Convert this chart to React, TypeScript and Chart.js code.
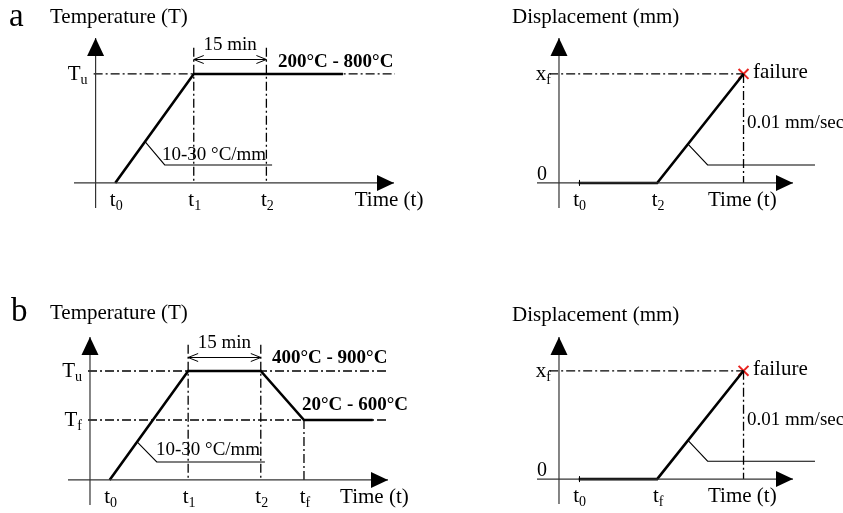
import React, { useEffect, useRef } from "react";
import { Chart, registerables } from "chart.js";

Chart.register(...registerables);

const SERIF = '"Liberation Serif", "Times New Roman", serif';

// ---------- data (schematic units) ----------
// a – temperature programme
const aTempTime = [1, 5, 12.6];
const aTempValue = [0, 10, 10];
const aTempTicks = [1, 5, 8.7];
const aTempTickSubs = ["0", "1", "2"];
const aTempLevels = [10];
const aTempLevelSubs = ["u"];
const aRangeLabel = "200°C - 800°C";

// a – displacement
const aDispTime = [1, 5, 9.4];
const aDispValue = [0, 0, 10];
const aDispTicks = [1, 5];
const aDispTickSubs = ["0", "2"];

// b – temperature programme
const bTempTime = [1, 5, 8.7, 10.9, 14.4];
const bTempValue = [0, 10, 10, 5.5, 5.5];
const bTempTicks = [1, 5, 8.7, 10.9];
const bTempTickSubs = ["0", "1", "2", "f"];
const bTempLevels = [10, 5.5];
const bTempLevelSubs = ["u", "f"];
const bRangeHigh = "400°C - 900°C";
const bRangeLow = "20°C - 600°C";

// b – displacement
const bDispTime = [1, 5, 9.4];
const bDispValue = [0, 0, 10];
const bDispTicks = [1, 5];
const bDispTickSubs = ["0", "f"];

const holdLabel = "15 min";
const heatRate = "10-30 °C/mm";
const loadRate = "0.01 mm/sec";
const failureLabel = "failure";
const timeLabel = "Time (t)";
const tempTitle = "Temperature (T)";
const dispTitle = "Displacement (mm)";

// ---------- types ----------
type P = { x: number; y: number };
type Txt = { x: number; y: number; text: string; size: number; bold?: boolean };
type Spec = {
  pos: { left: number; top: number; width: number; height: number };
  pad: { left: number; right: number; top: number; bottom: number };
  xRange: [number, number];
  yRange: [number, number];
  curveT: number[];
  curveV: number[];
  ticks: number[];
  tickSubs: string[];
  levels: number[];
  levelMain: string;
  levelSubs: string[];
  zeroLabel?: boolean;
  tickMark?: number;
  guides: P[][];
  leader: P[];
  failure?: P;
  hold?: { x1: number; x2: number; y: number; labelY: number };
  texts: Txt[];
  titles: { x: number; y: number; text: string; size: number }[];
  time: P;
};

const onSeg = (t: number[], v: number[], seg: number, frac: number): P => ({
  x: t[seg] + (t[seg + 1] - t[seg]) * frac,
  y: v[seg] + (v[seg + 1] - v[seg]) * frac,
});

const leaderPath = (p: P, end: number): P[] => [p, { x: p.x + 1.0, y: 1.65 }, { x: end, y: 1.65 }];

const last = (a: number[]) => a[a.length - 1];

const specs: Spec[] = [
  {
    pos: { left: 0, top: 0, width: 440, height: 256 },
    pad: { left: 74, right: 46, top: 38, bottom: 48 },
    xRange: [-1.1, 15.2],
    yRange: [-2.3, 13.3],
    curveT: aTempTime,
    curveV: aTempValue,
    ticks: aTempTicks,
    tickSubs: aTempTickSubs,
    levels: aTempLevels,
    levelMain: "T",
    levelSubs: aTempLevelSubs,
    guides: [
      [{ x: -0.1, y: aTempLevels[0] }, { x: 15.25, y: aTempLevels[0] }],
      [{ x: aTempTicks[1], y: 12.4 }, { x: aTempTicks[1], y: 0 }],
      [{ x: aTempTicks[2], y: 12.4 }, { x: aTempTicks[2], y: 0 }],
    ],
    leader: leaderPath(onSeg(aTempTime, aTempValue, 0, 0.38), 8.99),
    hold: { x1: aTempTicks[1], x2: aTempTicks[2], y: 11.38, labelY: 12.2 },
    texts: [
      { x: 9.29, y: 10.64, text: aRangeLabel, size: 19, bold: true },
      { x: 3.38, y: 2.11, text: heatRate, size: 19 },
    ],
    titles: [
      { x: 9, y: 26, text: "a", size: 33 },
      { x: 50, y: 23, text: tempTitle, size: 21 },
    ],
    time: { x: 13.2, y: -2.1 },
  },
  {
    pos: { left: 422, top: 0, width: 421, height: 256 },
    pad: { left: 115, right: 50, top: 38, bottom: 48 },
    xRange: [-1.12, 11.92],
    yRange: [-2.3, 13.3],
    curveT: aDispTime,
    curveV: aDispValue,
    ticks: aDispTicks,
    tickSubs: aDispTickSubs,
    levels: [last(aDispValue)],
    levelMain: "x",
    levelSubs: ["f"],
    zeroLabel: true,
    tickMark: aDispTicks[0],
    guides: [
      [{ x: -0.5, y: last(aDispValue) }, { x: last(aDispTime), y: last(aDispValue) }],
      [{ x: last(aDispTime), y: last(aDispValue) }, { x: last(aDispTime), y: 0 }],
    ],
    leader: leaderPath(onSeg(aDispTime, aDispValue, 1, 0.357), 13.04),
    failure: { x: last(aDispTime), y: last(aDispValue) },
    texts: [
      { x: 9.88, y: 9.63, text: failureLabel, size: 21 },
      { x: 9.58, y: 5.05, text: loadRate, size: 19 },
    ],
    titles: [{ x: 90, y: 23, text: dispTitle, size: 21 }],
    time: { x: 7.59, y: -2.1 },
  },
  {
    pos: { left: 0, top: 257, width: 440, height: 256 },
    pad: { left: 68, right: 52, top: 80, bottom: 8 },
    xRange: [-1.12, 15.18],
    yRange: [-2.3, 13.12],
    curveT: bTempTime,
    curveV: bTempValue,
    ticks: bTempTicks,
    tickSubs: bTempTickSubs,
    levels: bTempLevels,
    levelMain: "T",
    levelSubs: bTempLevelSubs,
    guides: [
      [{ x: -0.1, y: bTempLevels[0] }, { x: 15.2, y: bTempLevels[0] }],
      [{ x: -0.1, y: bTempLevels[1] }, { x: 15.1, y: bTempLevels[1] }],
      [{ x: bTempTicks[1], y: 12.4 }, { x: bTempTicks[1], y: 0 }],
      [{ x: bTempTicks[2], y: 12.4 }, { x: bTempTicks[2], y: 0 }],
      [{ x: bTempTicks[3], y: bTempLevels[1] }, { x: bTempTicks[3], y: 0 }],
    ],
    leader: leaderPath(onSeg(bTempTime, bTempValue, 0, 0.35), 8.91),
    hold: { x1: bTempTicks[1], x2: bTempTicks[2], y: 11.3, labelY: 12.1 },
    texts: [
      { x: 9.27, y: 10.7, text: bRangeHigh, size: 19, bold: true },
      { x: 10.8, y: 6.4, text: bRangeLow, size: 19, bold: true },
      { x: 3.36, y: 2.3, text: heatRate, size: 19 },
    ],
    titles: [
      { x: 11, y: 64, text: "b", size: 33 },
      { x: 50, y: 62, text: tempTitle, size: 21 },
    ],
    time: { x: 12.74, y: -2.1 },
  },
  {
    pos: { left: 422, top: 257, width: 421, height: 256 },
    pad: { left: 115, right: 50, top: 80, bottom: 8 },
    xRange: [-1.12, 11.92],
    yRange: [-2.3, 13.12],
    curveT: bDispTime,
    curveV: bDispValue,
    ticks: bDispTicks,
    tickSubs: bDispTickSubs,
    levels: [last(bDispValue)],
    levelMain: "x",
    levelSubs: ["f"],
    zeroLabel: true,
    tickMark: bDispTicks[0],
    guides: [
      [{ x: -0.5, y: last(bDispValue) }, { x: last(bDispTime), y: last(bDispValue) }],
      [{ x: last(bDispTime), y: last(bDispValue) }, { x: last(bDispTime), y: 0 }],
    ],
    leader: leaderPath(onSeg(bDispTime, bDispValue, 1, 0.357), 13.04),
    failure: { x: last(bDispTime), y: last(bDispValue) },
    texts: [
      { x: 9.88, y: 9.63, text: failureLabel, size: 21 },
      { x: 9.58, y: 4.95, text: loadRate, size: 19 },
    ],
    titles: [{ x: 90, y: 64, text: dispTitle, size: 21 }],
    time: { x: 7.59, y: -2.1 },
  },
];

// ---------- drawing helpers ----------
function subText(
  ctx: CanvasRenderingContext2D,
  main: string,
  sub: string,
  x: number,
  y: number,
  align: "left" | "center" | "right",
  size: number
) {
  const ss = Math.round(size * 0.68);
  ctx.font = `${size}px ${SERIF}`;
  const wm = ctx.measureText(main).width;
  ctx.font = `${ss}px ${SERIF}`;
  const ws = ctx.measureText(sub).width;
  const total = wm + ws;
  const sx = align === "center" ? x - total / 2 : align === "right" ? x - total : x;
  ctx.textAlign = "left";
  ctx.textBaseline = "alphabetic";
  ctx.font = `${size}px ${SERIF}`;
  ctx.fillText(main, sx, y);
  ctx.font = `${ss}px ${SERIF}`;
  ctx.fillText(sub, sx + wm, y + size * 0.2);
}

function makePlugin(spec: Spec) {
  return {
    id: "sketch",
    afterDatasetsDraw(chart: any) {
      const ctx: CanvasRenderingContext2D = chart.ctx;
      const X = (v: number) => chart.scales.x.getPixelForValue(v);
      const Y = (v: number) => chart.scales.y.getPixelForValue(v);
      const a = chart.chartArea;
      const ox = X(0);
      const oy = Y(0);
      ctx.save();
      ctx.fillStyle = "#000";
      ctx.strokeStyle = "#000";

      // arrowheads
      ctx.beginPath();
      ctx.moveTo(ox, a.top);
      ctx.lineTo(ox - 8.5, a.top + 18);
      ctx.lineTo(ox + 8.5, a.top + 18);
      ctx.closePath();
      ctx.fill();
      ctx.beginPath();
      ctx.moveTo(a.right, oy);
      ctx.lineTo(a.right - 17, oy - 8);
      ctx.lineTo(a.right - 17, oy + 8);
      ctx.closePath();
      ctx.fill();

      // small tick at t0
      if (spec.tickMark !== undefined) {
        ctx.lineWidth = 1;
        ctx.beginPath();
        ctx.moveTo(Math.round(X(spec.tickMark)) + 0.5, oy - 3);
        ctx.lineTo(Math.round(X(spec.tickMark)) + 0.5, oy + 3);
        ctx.stroke();
      }

      // time tick labels
      spec.ticks.forEach((t, i) => {
        subText(ctx, "t", spec.tickSubs[i], X(t) + 1, Y(-2.1), "center", 21);
      });

      // level labels
      spec.levels.forEach((lv, i) => {
        subText(ctx, spec.levelMain, spec.levelSubs[i], ox - 8, Y(lv) + 6, "right", 21);
      });
      if (spec.zeroLabel) {
        ctx.font = `20px ${SERIF}`;
        ctx.textAlign = "right";
        ctx.textBaseline = "alphabetic";
        ctx.fillText("0", ox - 12, oy - 3);
      }

      // hold period double arrow
      if (spec.hold) {
        const h = spec.hold;
        const x1 = X(h.x1);
        const x2 = X(h.x2);
        const y = Math.round(Y(h.y)) + 0.5;
        ctx.lineWidth = 1;
        ctx.beginPath();
        ctx.moveTo(x1, y);
        ctx.lineTo(x2, y);
        ctx.moveTo(x1 + 10, y - 4);
        ctx.lineTo(x1, y);
        ctx.lineTo(x1 + 10, y + 4);
        ctx.moveTo(x2 - 10, y - 4);
        ctx.lineTo(x2, y);
        ctx.lineTo(x2 - 10, y + 4);
        ctx.stroke();
        ctx.font = `19px ${SERIF}`;
        ctx.textAlign = "center";
        ctx.textBaseline = "alphabetic";
        ctx.fillText(holdLabel, (x1 + x2) / 2, Y(h.labelY));
      }

      // free texts
      spec.texts.forEach((t) => {
        ctx.font = `${t.bold ? "bold " : ""}${t.size}px ${SERIF}`;
        ctx.textAlign = "left";
        ctx.textBaseline = "alphabetic";
        ctx.fillText(t.text, X(t.x), Y(t.y));
      });

      // time axis label
      ctx.font = `21px ${SERIF}`;
      ctx.textAlign = "left";
      ctx.fillText(timeLabel, X(spec.time.x), Y(spec.time.y));

      // titles (canvas pixel positions)
      spec.titles.forEach((t) => {
        ctx.font = `${t.size}px ${SERIF}`;
        ctx.textAlign = "left";
        ctx.fillText(t.text, t.x, t.y);
      });
      ctx.restore();
    },
  };
}

function Panel({ spec }: { spec: Spec }) {
  const ref = useRef<HTMLCanvasElement | null>(null);
  useEffect(() => {
    const canvas = ref.current;
    if (!canvas) return;
    const [xmin, xmax] = spec.xRange;
    const [ymin, ymax] = spec.yRange;
    const line = (data: P[], extra: any) => ({
      type: "scatter",
      data,
      showLine: true,
      pointRadius: 0,
      fill: false,
      tension: 0,
      clip: false,
      borderColor: "#000",
      ...extra,
    });
    const datasets: any[] = [
      line([{ x: xmin, y: 0 }, { x: xmax, y: 0 }], { borderWidth: 1.2, borderColor: "#333" }),
      line([{ x: 0, y: ymin }, { x: 0, y: ymax }], { borderWidth: 1.2, borderColor: "#333" }),
      ...spec.guides.map((g) => line(g, { borderWidth: 1.3, borderDash: [9, 3, 2, 3] })),
      line(spec.leader, { borderWidth: 1.1 }),
      line(
        spec.curveT.map((t, i) => ({ x: t, y: spec.curveV[i] })),
        { borderWidth: 2.6, borderJoinStyle: "miter" }
      ),
    ];
    if (spec.failure) {
      datasets.push({
        type: "scatter",
        data: [spec.failure],
        showLine: false,
        pointStyle: "crossRot",
        pointRadius: 7,
        pointBorderWidth: 2,
        pointBorderColor: "#e8231f",
        borderColor: "#e8231f",
        clip: false,
      });
    }
    const chart = new Chart(canvas, {
      type: "scatter",
      data: { datasets },
      options: {
        animation: false,
        responsive: false,
        maintainAspectRatio: false,
        events: [],
        layout: { padding: spec.pad },
        scales: {
          x: { type: "linear", min: xmin, max: xmax, display: false },
          y: { type: "linear", min: ymin, max: ymax, display: false },
        },
        plugins: { legend: { display: false }, tooltip: { enabled: false }, title: { display: false } },
      } as any,
      plugins: [makePlugin(spec) as any],
    } as any);
    return () => chart.destroy();
  }, [spec]);
  return (
    <canvas
      ref={ref}
      width={spec.pos.width}
      height={spec.pos.height}
      style={{
        position: "absolute",
        left: spec.pos.left,
        top: spec.pos.top,
        width: spec.pos.width,
        height: spec.pos.height,
      }}
    />
  );
}

export default function App() {
  return (
    <div
      style={{
        position: "absolute",
        left: 0,
        top: 0,
        width: 843,
        height: 513,
        background: "#fff",
        overflow: "hidden",
      }}
    >
      {specs.map((s, i) => (
        <Panel key={i} spec={s} />
      ))}
    </div>
  );
}
